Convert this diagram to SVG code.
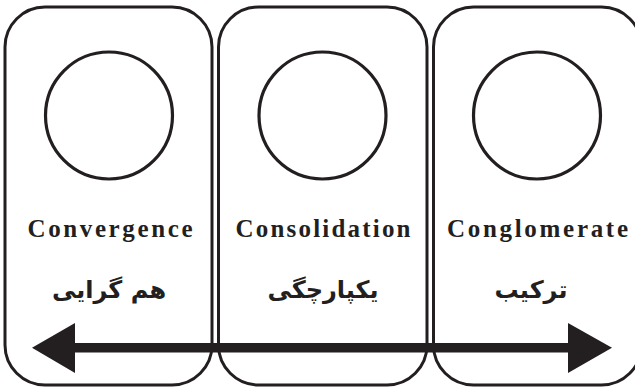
<svg xmlns="http://www.w3.org/2000/svg" width="635" height="388" viewBox="0 0 635 388">
<style>
.box{fill:#fff;stroke:#231f20;stroke-width:3}
.circ{fill:none;stroke:#231f20;stroke-width:3.2}
.en{font-family:"Liberation Serif","Times New Roman",serif;font-weight:bold;font-size:25px;fill:#231f20;text-anchor:middle}
.fa{font-family:"DejaVu Sans",sans-serif;font-weight:bold;font-size:24px;fill:#231f20;text-anchor:middle}
.arr{fill:#231f20}
</style>
<rect width="635" height="388" fill="#fff"/>
<g id="node-convergence">
<rect class="box" x="5" y="7" width="207" height="378" rx="40" ry="40"/>
<circle class="circ" cx="109" cy="115.5" r="63.5"/>
<text class="en" x="110" y="237" textLength="165" lengthAdjust="spacing">Convergence</text>
<text class="fa" x="109" y="298" direction="rtl">هم گرایی</text>
</g>
<g id="node-consolidation">
<rect class="box" x="218.5" y="7" width="208.5" height="378" rx="40" ry="40"/>
<circle class="circ" cx="322.5" cy="115.5" r="63.5"/>
<text class="en" x="323" y="237" textLength="175" lengthAdjust="spacing">Consolidation</text>
<text class="fa" x="323" y="298" direction="rtl">یکپارچگی</text>
</g>
<g id="node-conglomerate">
<rect class="box" x="433.5" y="7" width="208" height="378" rx="40" ry="40"/>
<circle class="circ" cx="537" cy="115.5" r="63.5"/>
<text class="en" x="537.5" y="237" textLength="181" lengthAdjust="spacing">Conglomerate</text>
<text class="fa" x="531" y="298" direction="rtl">ترکیب</text>
</g>
<g id="connectors">
<rect class="arr" x="70" y="343" width="503" height="9.5"/>
<polygon class="arr" points="32,347.75 75,323 75,373"/>
<polygon class="arr" points="612,347.75 568,323 568,373"/>
</g>
</svg>
